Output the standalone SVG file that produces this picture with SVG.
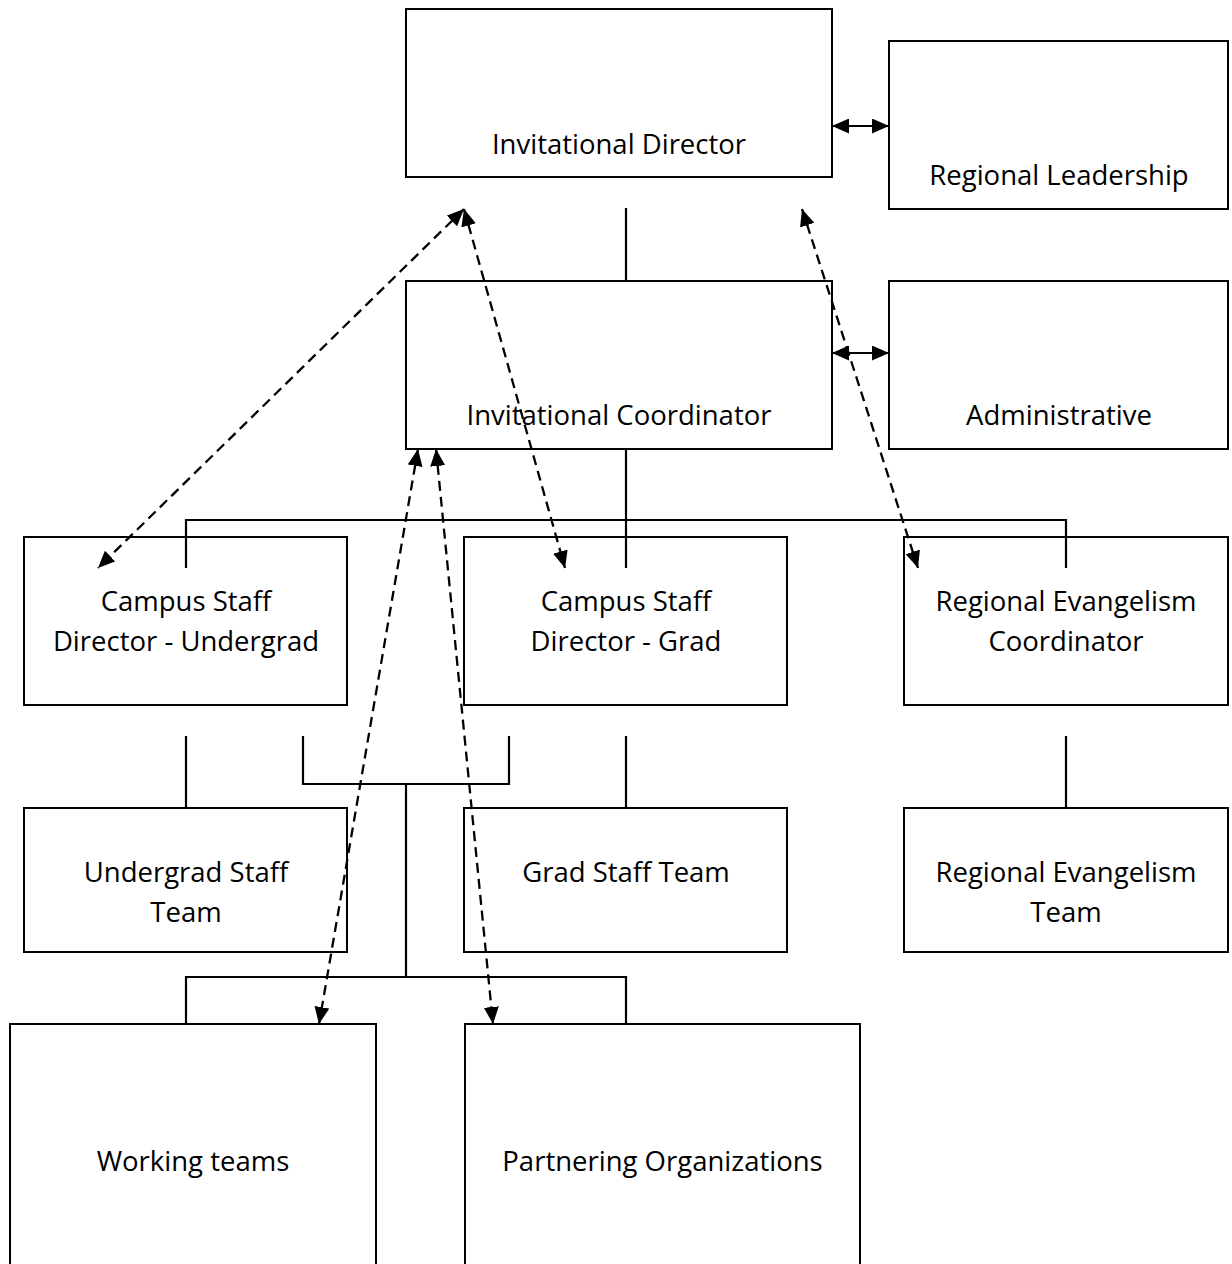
<svg xmlns="http://www.w3.org/2000/svg" width="1232" height="1264" viewBox="0 0 1232 1264">
<style>
.box{fill:none;stroke:#000;stroke-width:2}
.ln{fill:none;stroke:#000;stroke-width:2.2}
.dash{fill:none;stroke:#000;stroke-width:2.3;stroke-dasharray:10,6}
text{font-family:"Open Sans","Noto Sans","DejaVu Sans",sans-serif;font-size:27.5px;fill:#000;text-anchor:middle}
</style>
<defs>
<marker id="ah" markerUnits="userSpaceOnUse" markerWidth="17" markerHeight="15" refX="17" refY="7.5" orient="auto-start-reverse" viewBox="0 0 17 15">
<path d="M0,0 L17,7.5 L0,15 z" fill="#000" stroke="none"/>
</marker>
</defs>
<rect x="0" y="0" width="1232" height="1264" fill="#fff"/>
<g id="connectors">
<path class="ln" d="M626,208 V281"/>
<path class="ln" d="M626,449 V568"/>
<path class="ln" d="M186,568 V520 H1066 V568"/>
<path class="ln" d="M186,736 V808 M626,736 V808 M1066,736 V808"/>
<path class="ln" d="M303,736 V784 H509 V736 M406,784 V977"/>
<path class="ln" d="M186,1024 V977 H626 V1024"/>
<line class="ln" x1="832" y1="126" x2="889" y2="126" marker-start="url(#ah)" marker-end="url(#ah)"/>
<line class="ln" x1="832" y1="353" x2="889" y2="353" marker-start="url(#ah)" marker-end="url(#ah)"/>
<line class="dash" x1="464" y1="209" x2="98" y2="568" marker-start="url(#ah)" marker-end="url(#ah)"/>
<line class="dash" x1="464" y1="209" x2="565" y2="568" marker-start="url(#ah)" marker-end="url(#ah)"/>
<line class="dash" x1="802" y1="209" x2="918" y2="568" marker-start="url(#ah)" marker-end="url(#ah)"/>
<line class="dash" x1="418" y1="449" x2="319" y2="1024" marker-start="url(#ah)" marker-end="url(#ah)"/>
<line class="dash" x1="436" y1="449" x2="493" y2="1024" marker-start="url(#ah)" marker-end="url(#ah)"/>
</g>
<g id="invitational-director"><rect class="box" x="406" y="9" width="426" height="168"/><text x="619" y="154">Invitational Director</text></g>
<g id="regional-leadership"><rect class="box" x="889" y="41" width="339" height="168"/><text x="1059" y="185">Regional Leadership</text></g>
<g id="invitational-coordinator"><rect class="box" x="406" y="281" width="426" height="168"/><text x="619" y="425">Invitational Coordinator</text></g>
<g id="administrative"><rect class="box" x="889" y="281" width="339" height="168"/><text x="1059" y="425">Administrative</text></g>
<g id="csd-undergrad"><rect class="box" x="24" y="537" width="323" height="168"/><text x="186" y="611">Campus Staff</text><text x="186" y="651">Director - Undergrad</text></g>
<g id="csd-grad"><rect class="box" x="464" y="537" width="323" height="168"/><text x="626" y="611">Campus Staff</text><text x="626" y="651">Director - Grad</text></g>
<g id="rec"><rect class="box" x="904" y="537" width="324" height="168"/><text x="1066" y="611">Regional Evangelism</text><text x="1066" y="651">Coordinator</text></g>
<g id="undergrad-team"><rect class="box" x="24" y="808" width="323" height="144"/><text x="186" y="882">Undergrad Staff</text><text x="186" y="922">Team</text></g>
<g id="grad-team"><rect class="box" x="464" y="808" width="323" height="144"/><text x="626" y="882">Grad Staff Team</text></g>
<g id="re-team"><rect class="box" x="904" y="808" width="324" height="144"/><text x="1066" y="882">Regional Evangelism</text><text x="1066" y="922">Team</text></g>
<g id="working-teams"><rect class="box" x="10" y="1024" width="366" height="260"/><text x="193" y="1171">Working teams</text></g>
<g id="partnering"><rect class="box" x="465" y="1024" width="395" height="260"/><text x="662.5" y="1171">Partnering Organizations</text></g>
</svg>
